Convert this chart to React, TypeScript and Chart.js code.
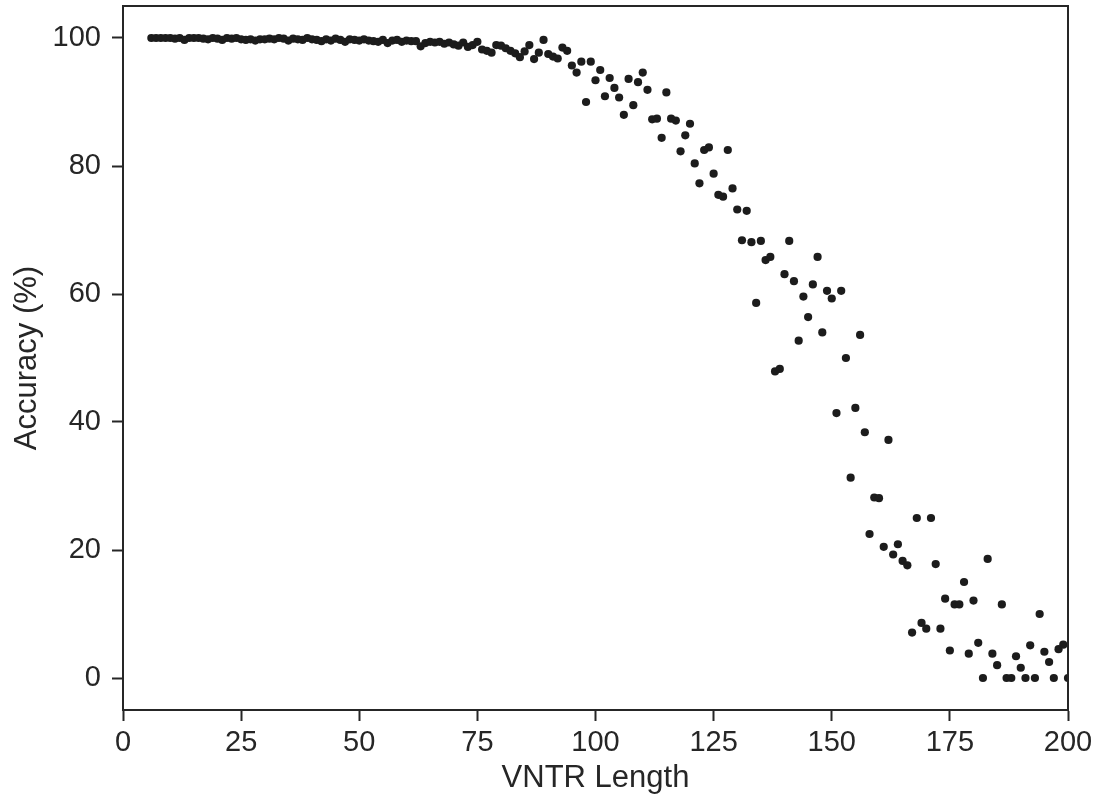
import React, { useEffect, useRef } from "react";
import { Chart, registerables } from "chart.js";

Chart.register(...registerables);

const vntrLength: number[] = [
  6, 7, 8, 9, 10, 11, 12, 13, 14, 15, 16, 17, 18, 19, 20, 21, 22, 23, 24, 25,
  26, 27, 28, 29, 30, 31, 32, 33, 34, 35, 36, 37, 38, 39, 40, 41, 42, 43, 44, 45,
  46, 47, 48, 49, 50, 51, 52, 53, 54, 55, 56, 57, 58, 59, 60, 61, 62, 63, 64, 65,
  66, 67, 68, 69, 70, 71, 72, 73, 74, 75, 76, 77, 78, 79, 80, 81, 82, 83, 84, 85,
  86, 87, 88, 89, 90, 91, 92, 93, 94, 95, 96, 97, 98, 99, 100, 101, 102, 103, 104, 105,
  106, 107, 108, 109, 110, 111, 112, 113, 114, 115, 116, 117, 118, 119, 120, 121, 122, 123, 124, 125,
  126, 127, 128, 129, 130, 131, 132, 133, 134, 135, 136, 137, 138, 139, 140, 141, 142, 143, 144, 145,
  146, 147, 148, 149, 150, 151, 152, 153, 154, 155, 156, 157, 158, 159, 160, 161, 162, 163, 164, 165,
  166, 167, 168, 169, 170, 171, 172, 173, 174, 175, 176, 177, 178, 179, 180, 181, 182, 183, 184, 185,
  186, 187, 188, 189, 190, 191, 192, 193, 194, 195, 196, 197, 198, 199, 200,
];

const accuracy: number[] = [
  // 6-25
  100, 100, 100, 100, 100, 99.9, 100, 99.7, 100, 100, 100, 99.9, 99.8, 100, 99.9, 99.7, 100, 99.9, 100, 99.8,
  // 26-45
  99.7, 99.8, 99.6, 99.8, 99.8, 99.9, 99.8, 100, 99.9, 99.6, 99.9, 99.8, 99.7, 100, 99.8, 99.7, 99.5, 99.8, 99.6, 99.9,
  // 46-65
  99.7, 99.4, 99.8, 99.7, 99.6, 99.8, 99.6, 99.5, 99.4, 99.7, 99.2, 99.6, 99.7, 99.4, 99.6, 99.5, 99.5, 98.7, 99.2, 99.4,
  // 66-85
  99.3, 99.4, 99.1, 99.3, 99.0, 98.8, 99.3, 98.6, 98.9, 99.4, 98.2, 98.0, 97.7, 98.9, 98.8, 98.4, 98.0, 97.6, 97.0, 97.9,
  // 86-105
  98.9, 96.7, 97.7, 99.7, 97.5, 97.1, 96.8, 98.5, 98.0, 95.7, 94.6, 96.3, 90.0, 96.3, 93.4, 95.0, 90.9, 93.75, 92.2, 90.7,
  // 106-125
  88.0, 93.6, 89.5, 93.1, 94.6, 91.9, 87.3, 87.4, 84.4, 91.5, 87.4, 87.1, 82.3, 84.8, 86.6, 80.4, 77.3, 82.5, 82.9, 78.8,
  // 126-145
  75.5, 75.2, 82.5, 76.5, 73.2, 68.4, 73.0, 68.1, 58.6, 68.3, 65.3, 65.8, 47.9, 48.3, 63.1, 68.3, 62.0, 52.7, 59.6, 56.4,
  // 146-165
  61.5, 65.8, 54.0, 60.5, 59.3, 41.4, 60.5, 50.0, 31.3, 42.2, 53.6, 38.4, 22.5, 28.2, 28.1, 20.5, 37.2, 19.3, 20.9, 18.3,
  // 166-185
  17.6, 7.1, 25.0, 8.6, 7.7, 25.0, 17.8, 7.7, 12.4, 4.3, 11.5, 11.5, 15.0, 3.8, 12.1, 5.5, 0, 18.6, 3.8, 2.0,
  // 186-200
  11.5, 0, 0, 3.4, 1.6, 0, 5.1, 0, 10.0, 4.1, 2.5, 0, 4.5, 5.2, 0,
];

const xTicks: number[] = [0, 25, 50, 75, 100, 125, 150, 175, 200];
const yTicks: number[] = [0, 20, 40, 60, 80, 100];

const xTitle = "VNTR Length";
const yTitle = "Accuracy (%)";

const INK = "#262626";
const DOT = "#1c1c1c";
const FONT = "'Liberation Sans', Arial, Helvetica, sans-serif";

const frame = {
  id: "frame",
  afterDraw(chart: any) {
    const { ctx, chartArea } = chart;
    ctx.save();
    ctx.strokeStyle = INK;
    ctx.lineWidth = 2;
    ctx.strokeRect(chartArea.left, chartArea.top, chartArea.right - chartArea.left, chartArea.bottom - chartArea.top);
    ctx.restore();
  },
};

export default function App() {
  const ref = useRef<HTMLCanvasElement | null>(null);

  useEffect(() => {
    if (!ref.current) return;
    document.body.style.margin = "0";
    const points = vntrLength.map((x, i) => ({ x, y: accuracy[i] }));
    const chart = new Chart(ref.current, {
      type: "scatter",
      data: {
        datasets: [
          {
            data: points,
            pointRadius: 4.1,
            pointHoverRadius: 4.1,
            backgroundColor: DOT,
            borderWidth: 0,
            clip: 0,
          } as any,
        ],
      },
      options: {
        animation: false,
        responsive: false,
        devicePixelRatio: 1,
        events: [],
        layout: { padding: { top: 6, right: 29, left: 0, bottom: 0 } },
        plugins: {
          legend: { display: false },
          tooltip: { enabled: false },
        },
        scales: {
          x: {
            type: "linear",
            min: 0,
            max: 200,
            afterBuildTicks: (s: any) => {
              s.ticks = xTicks.map((v) => ({ value: v }));
            },
            afterFit: (s: any) => {
              s.height = 93;
              s.paddingLeft = 0;
              s.paddingRight = 0;
            },
            grid: {
              display: true,
              drawOnChartArea: false,
              drawTicks: true,
              tickLength: 11,
              tickWidth: 2,
              tickColor: INK,
            },
            border: { display: true, width: 2, color: INK },
            ticks: {
              color: INK,
              padding: 5,
              maxRotation: 0,
              font: { family: FONT, size: 29 },
            },
            title: {
              display: true,
              text: xTitle,
              color: INK,
              font: { family: FONT, size: 31 },
              padding: { top: 0, bottom: 6 },
            },
          },
          y: {
            type: "linear",
            min: -5,
            max: 105,
            afterBuildTicks: (s: any) => {
              s.ticks = yTicks.map((v) => ({ value: v }));
            },
            afterFit: (s: any) => {
              s.width = 123;
              s.paddingTop = 0;
              s.paddingBottom = 0;
            },
            grid: {
              display: true,
              drawOnChartArea: false,
              drawTicks: true,
              tickLength: 11,
              tickWidth: 2,
              tickColor: INK,
            },
            border: { display: true, width: 2, color: INK },
            ticks: {
              color: INK,
              padding: 11,
              font: { family: FONT, size: 29 },
            },
            title: {
              display: true,
              text: yTitle,
              color: INK,
              font: { family: FONT, size: 31 },
              padding: { top: 9, bottom: 0 },
            },
          },
        },
      },
      plugins: [frame],
    });
    return () => chart.destroy();
  }, []);

  return (
    <div style={{ position: "absolute", left: 0, top: 0, width: 1097, height: 803 }}>
      <canvas ref={ref} width={1097} height={803} style={{ display: "block", width: 1097, height: 803 }} />
    </div>
  );
}
